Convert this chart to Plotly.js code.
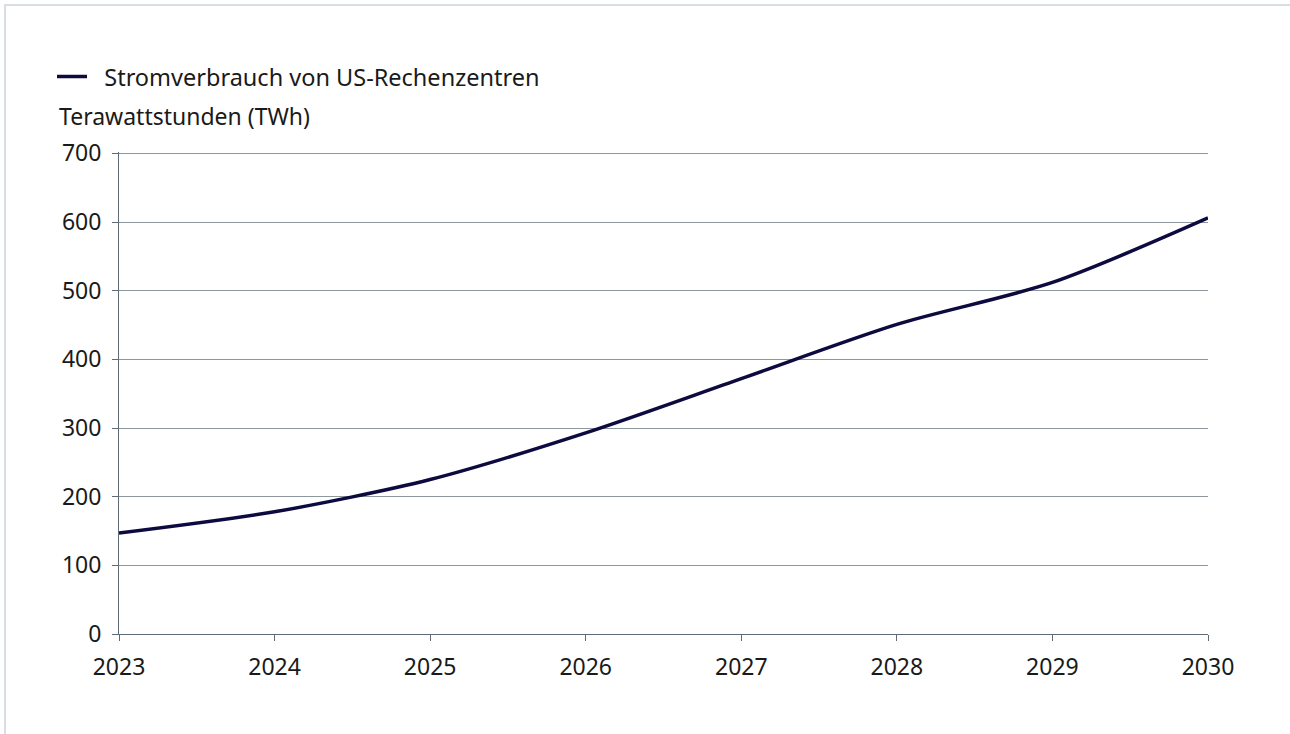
<!DOCTYPE html>
<html>
<head>
<meta charset="utf-8">
<script src="https://cdn.plot.ly/plotly-3.0.1.min.js"></script>
<style>
  html, body { margin: 0; padding: 0; background: #ffffff; }
  #frame {
    position: absolute; left: 4px; top: 4px; width: 1284px; height: 740px;
    border-left: 2px solid #d8dee6; border-top: 2px solid #d8dee6; border-right: 1px solid #e6eaef;
  }
  #chart { position: absolute; left: 0; top: 0; width: 1290px; height: 734px; }
</style>
</head>
<body>
<div id="frame"></div>
<div id="chart"></div>
<script>
// Stromverbrauch von US-Rechenzentren, TWh
const years = [2023, 2024, 2025, 2026, 2027, 2028, 2029, 2030];
const twh = [147, 178, 225, 293, 372, 451, 512, 606];
const yTicks = [0, 100, 200, 300, 400, 500, 600, 700];

const LINE_COLOR = "#0c0a3e";
const GRID_COLOR = "#8e969e";
const AXIS_COLOR = "#5f6b77";
const FONT = "'Noto Sans', sans-serif";
const FS = 23;

const traces = [
  {
    x: years,
    y: twh,
    type: "scatter",
    mode: "lines",
    name: "\u00a0\u00a0Stromverbrauch von US-Rechenzentren",
    line: { color: LINE_COLOR, width: 3.5, shape: "spline", smoothing: 0.8 },
  },
];

const layout = {
  width: 1290,
  height: 734,
  paper_bgcolor: "rgba(0,0,0,0)",
  plot_bgcolor: "rgba(0,0,0,0)",
  font: { family: FONT, size: FS, color: "#1a1a1a" },
  margin: { l: 119, r: 82, t: 152, b: 100 },
  showlegend: true,
  legend: {
    x: -0.0615, y: 1.156, xanchor: "left", yanchor: "middle",
    orientation: "h",
    font: { family: FONT, size: FS + 0.5, color: "#1a1a1a" },
    bgcolor: "rgba(0,0,0,0)",
  },
  xaxis: {
    range: [2023, 2030],
    tickvals: years,
    ticktext: years.map(String),
    showgrid: false,
    zeroline: false,
    showline: true,
    linecolor: AXIS_COLOR,
    linewidth: 1,
    ticks: "outside",
    ticklen: 6,
    tickcolor: AXIS_COLOR,
    ticklabelstandoff: 6,
    tickfont: { size: FS },
    fixedrange: true,
  },
  yaxis: {
    range: [0, 702],
    tickvals: yTicks,
    showgrid: true,
    gridcolor: GRID_COLOR,
    gridwidth: 1,
    zeroline: false,
    showline: true,
    linecolor: AXIS_COLOR,
    linewidth: 1,
    ticks: "outside",
    ticklen: 6,
    tickcolor: AXIS_COLOR,
    ticklabelstandoff: 6,
    tickfont: { size: FS },
    fixedrange: true,
  },
  annotations: [
    {
      text: "Terawattstunden (TWh)",
      xref: "paper", yref: "paper",
      x: -0.057, y: 1.075,
      xanchor: "left", yanchor: "middle",
      showarrow: false,
      font: { family: FONT, size: FS, color: "#1a1a1a" },
    },
  ],
};

Plotly.newPlot("chart", traces, layout, { displayModeBar: false, staticPlot: true });
</script>
</body>
</html>
